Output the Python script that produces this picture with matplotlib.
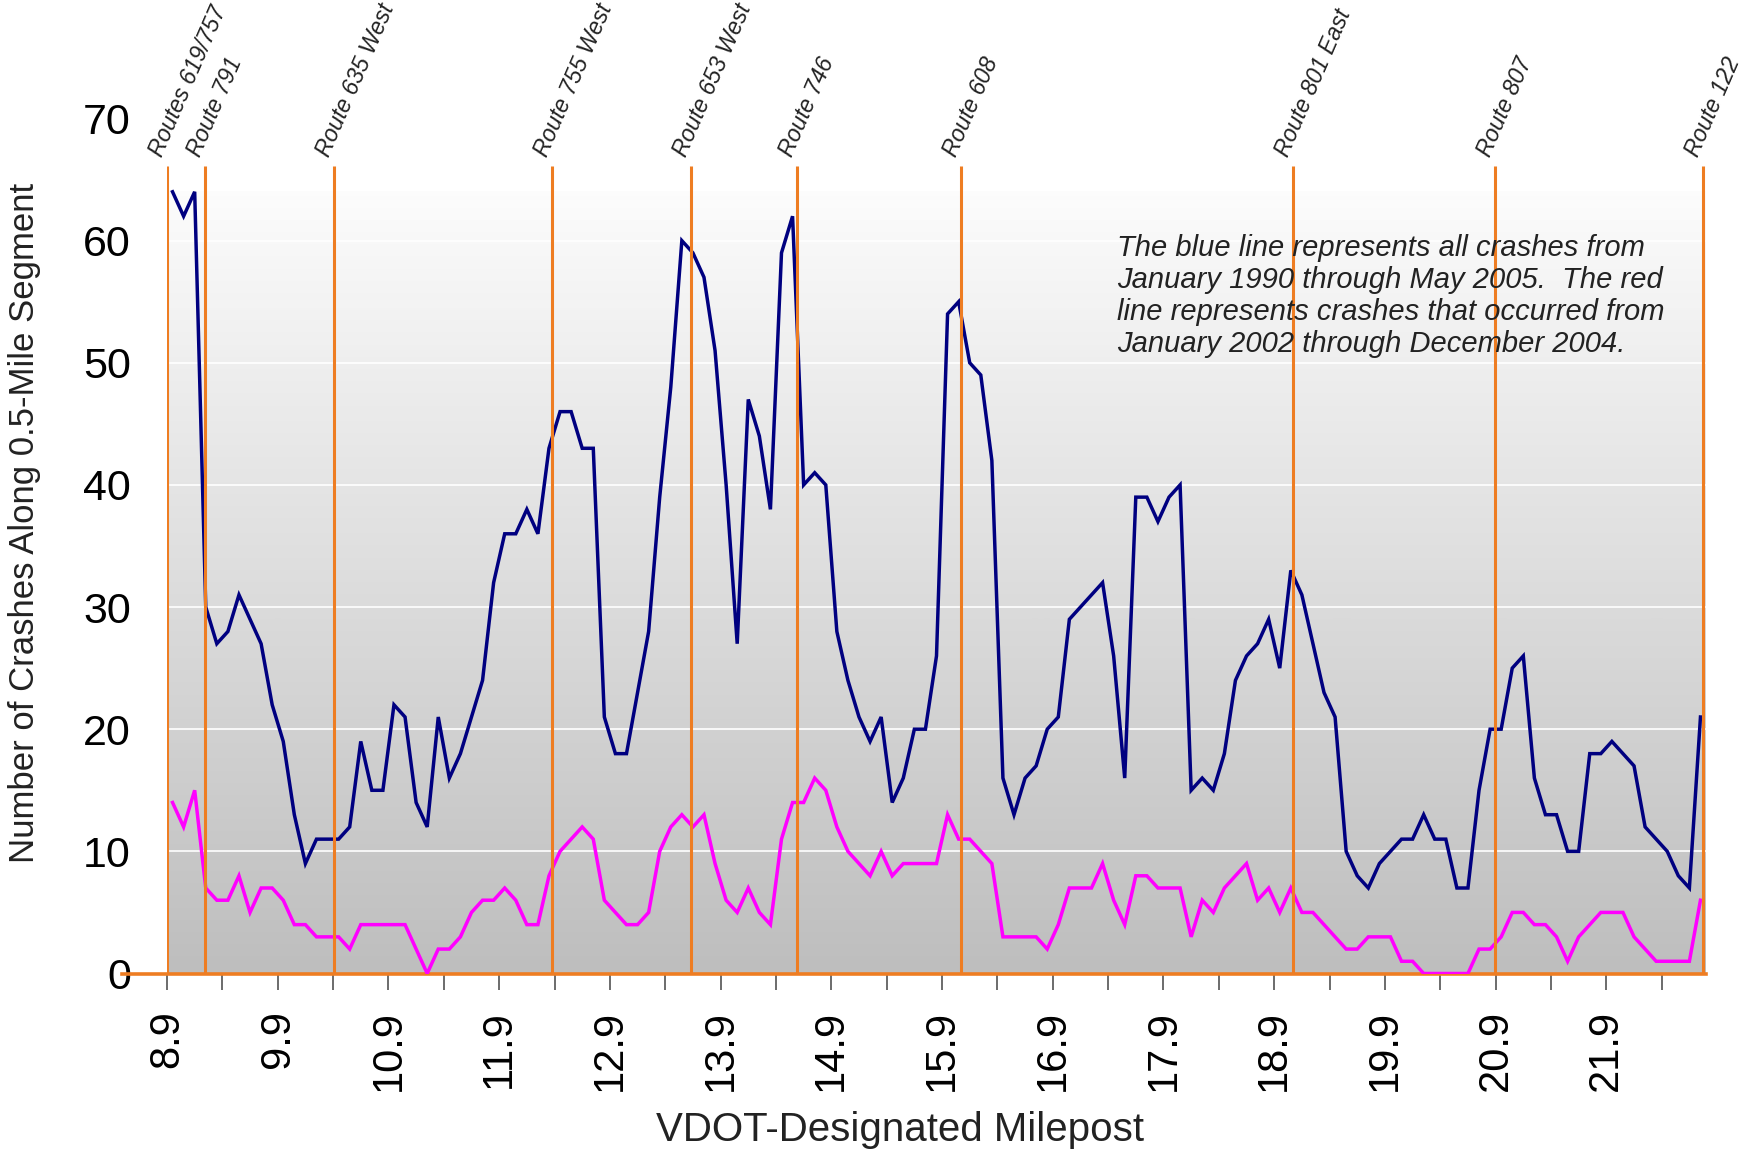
import numpy as np
import matplotlib
matplotlib.use("Agg")
import matplotlib.pyplot as plt
from matplotlib.colors import LinearSegmentedColormap

# ---------------- data ----------------
start_milepost = 8.9
segment_step = 0.1

all_crashes = [64, 62, 64, 30, 27, 28, 31, 29, 27, 22, 19, 13, 9, 11, 11, 11, 12, 19, 15, 15,
               22, 21, 14, 12, 21, 16, 18, 21, 24, 32, 36, 36, 38, 36, 43, 46, 46, 43, 43, 21,
               18, 18, 23, 28, 39, 48, 60, 59, 57, 51, 40, 27, 47, 44, 38, 59, 62, 40, 41, 40,
               28, 24, 21, 19, 21, 14, 16, 20, 20, 26, 54, 55, 50, 49, 42, 16, 13, 16, 17, 20,
               21, 29, 30, 31, 32, 26, 16, 39, 39, 37, 39, 40, 15, 16, 15, 18, 24, 26, 27, 29,
               25, 33, 31, 27, 23, 21, 10, 8, 7, 9, 10, 11, 11, 13, 11, 11, 7, 7, 15, 20,
               20, 25, 26, 16, 13, 13, 10, 10, 18, 18, 19, 18, 17, 12, 11, 10, 8, 7, 21]

recent_crashes = [14, 12, 15, 7, 6, 6, 8, 5, 7, 7, 6, 4, 4, 3, 3, 3, 2, 4, 4, 4,
                  4, 4, 2, 0, 2, 2, 3, 5, 6, 6, 7, 6, 4, 4, 8, 10, 11, 12, 11, 6,
                  5, 4, 4, 5, 10, 12, 13, 12, 13, 9, 6, 5, 7, 5, 4, 11, 14, 14, 16, 15,
                  12, 10, 9, 8, 10, 8, 9, 9, 9, 9, 13, 11, 11, 10, 9, 3, 3, 3, 3, 2,
                  4, 7, 7, 7, 9, 6, 4, 8, 8, 7, 7, 7, 3, 6, 5, 7, 8, 9, 6, 7,
                  5, 7, 5, 5, 4, 3, 2, 2, 3, 3, 3, 1, 1, 0, 0, 0, 0, 0, 2, 2,
                  3, 5, 5, 4, 4, 3, 1, 3, 4, 5, 5, 5, 3, 2, 1, 1, 1, 1, 6]

route_names = ["Routes 619/757", "Route 791", "Route 635 West", "Route 755 West",
               "Route 653 West", "Route 746", "Route 608", "Route 801 East",
               "Route 807", "Route 122"]
route_mileposts = [8.9, 9.24, 10.41, 12.375, 13.63, 14.59, 16.07, 19.07, 20.89, 22.77]

label_mileposts = [8.9, 9.9, 10.9, 11.9, 12.9, 13.9, 14.9, 15.9, 16.9, 17.9, 18.9, 19.9, 20.9, 21.9]
y_ticks = [0, 10, 20, 30, 40, 50, 60, 70]

note_text = ("The blue line represents all crashes from\n"
             "January 1990 through May 2005.  The red\n"
             "line represents crashes that occurred from\n"
             "January 2002 through December 2004.")

# ---------------- style ----------------
plt.rcParams['font.family'] = ['Liberation Sans', 'DejaVu Sans']
ORANGE = '#EE7D22'
NAVY = '#000080'
MAGENTA = '#FF00FF'

W, H = 1743, 1149
fig = plt.figure(figsize=(W / 100, H / 100), dpi=100)
ax = fig.add_axes([167 / W, 175.5 / H, 1539 / W, 855 / H])

n = len(all_crashes)
mileposts = start_milepost + segment_step * np.arange(n)
x = mileposts + segment_step / 2
x0 = start_milepost
x1 = start_milepost + segment_step * n
ax.set_xlim(x0, x1)
ax.set_ylim(0, 70)

# gradient plot-area background
grad = np.linspace(1, 0, 256).reshape(-1, 1)
cmap = LinearSegmentedColormap.from_list('bg', ['#BEBEBE', '#FCFCFC'])
ax.imshow(grad, extent=(x0, x1, 0, 64), aspect='auto', cmap=cmap,
          origin='upper', zorder=0, interpolation='bilinear')

for yv in y_ticks[1:-1]:
    ax.axhline(yv, color='white', lw=1.2, zorder=1)

ax.plot(x, all_crashes, color=NAVY, lw=2.5, zorder=3, solid_joinstyle='miter')
ax.plot(x, recent_crashes, color=MAGENTA, lw=2.5, zorder=3, solid_joinstyle='miter')

# zero axis line extending left
ax.axhline(0, xmin=(122 - 167) / 1539, xmax=1, color=ORANGE, lw=2.6,
           clip_on=False, zorder=2.5)

# route lines + labels
ax.vlines(route_mileposts, 0, 66.1, color=ORANGE, lw=2.2, zorder=4)
for name, mp in zip(route_names, route_mileposts):
    ax.annotate(name, xy=(mp, 66.1), xytext=(-3.5, 5.5), textcoords='offset points',
                rotation=66.5, rotation_mode='anchor', ha='left', va='baseline',
                fontsize=16.5, style='italic', color='#222222', annotation_clip=False)

for s in ax.spines.values():
    s.set_visible(False)

# ticks
half_ticks = [start_milepost + 0.5 * k for k in range(28)]
ax.set_xticks(half_ticks)
ax.set_xticklabels([f"{t:.1f}" if any(abs(t - l) < 1e-6 for l in label_mileposts) else ""
                    for t in half_ticks])
ax.tick_params(axis='x', length=11.5, width=1.1, color='#444444', pad=15,
               labelsize=30, labelrotation=90)
ax.set_yticks(y_ticks)
ax.set_yticklabels([str(v) for v in y_ticks])
ax.tick_params(axis='y', length=0, pad=26, labelsize=31)

fig.text(25 / W, 626.5 / H, "Number of Crashes Along 0.5-Mile Segment", rotation=90,
         ha='center', va='center', fontsize=25, color='#222222')
fig.text(900 / W, 8 / H, "VDOT-Designated Milepost", ha='center', va='baseline',
         fontsize=29, color='#222222')
fig.text(1117 / W, (H - 234) / H, note_text, ha='left', va='top', fontsize=21,
         style='italic', color='#222222', linespacing=1.18)

fig.savefig("out.png", dpi=100)
